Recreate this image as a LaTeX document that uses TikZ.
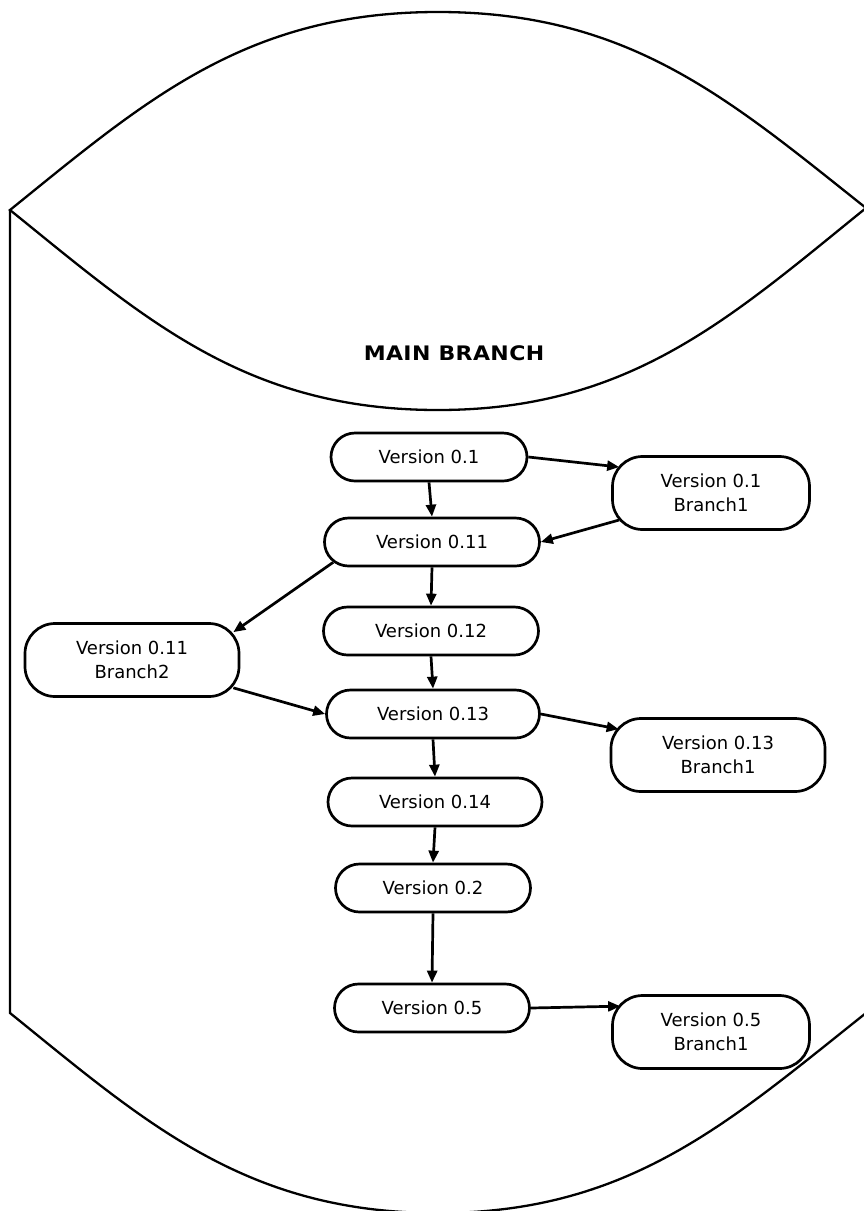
\documentclass[tikz,border=0pt]{standalone}
\usepackage{fontspec}
\setmainfont{DejaVu Sans}
\newfontfamily\titlefont[FakeStretch=1.1,LetterSpace=2]{DejaVu Sans Bold}
\usepackage{tikz}
\usetikzlibrary{arrows.meta}

\begin{document}
\begin{tikzpicture}[->,>={Triangle[length=12pt,width=10pt]},x=1pt,y=-1pt,
			line width=2.7pt,
			ver node/.style={draw,rectangle,rounded corners=24pt,minimum width=196pt,minimum height=48pt,
				font=\fontsize{18}{24}\selectfont},
			wide node/.style={ver node,minimum width=215pt},
			branch node/.style={draw,rectangle,rounded corners=30pt,minimum width=197pt,minimum height=73pt,
				align=center,font=\fontsize{18}{24}\selectfont}]

			\useasboundingbox (0,0) rectangle (863,1211);

			% the cylinder round the main branch
			\draw[-,line width=2.3pt] (866,208) .. controls (730,100) and (630,12) .. (438,12)
				.. controls (246,12) and (146,100) .. (10,210)
				.. controls (146,320) and (246,410) .. (438,410)
				.. controls (630,410) and (730,318) .. (866,208);
			\draw[-,line width=2.3pt] (10,210) -- (10,1013)
				.. controls (146,1123) and (246,1213) .. (438,1213)
				.. controls (630,1213) and (730,1121) .. (866,1013);

			\node[font=\titlefont\fontsize{20}{24}\selectfont] (title) at (454,353) {MAIN BRANCH};

			\node[ver node] (v01) at (429,457) {Version 0.1};
			\node[branch node] (v01b1) at (711,493) {Version 0.1\\Branch1};
			\node[wide node] (v011) at (432,542) {Version 0.11};
			\node[wide node] (v012) at (431,631) {Version 0.12};
			\node[branch node,minimum width=214pt] (v011b2) at (132,660) {Version 0.11\\Branch2};
			\node[wide node,minimum width=213pt] (v013) at (433,714) {Version 0.13};
			\node[branch node,minimum width=214pt] (v013b1) at (718,755) {Version 0.13\\Branch1};
			\node[wide node,minimum width=214pt] (v014) at (435,802) {Version 0.14};
			\node[ver node,minimum width=195pt] (v02) at (433,888) {Version 0.2};
			\node[ver node,minimum width=195pt] (v05) at (432,1008) {Version 0.5};
			\node[branch node] (v05b1) at (711,1032) {Version 0.5\\Branch1};

			\path[]
			(v01.south) edge (v011.north)
			(v01.east) edge ([shift={(8,-26)}]v01b1.west)
			([shift={(8,27)}]v01b1.west) edge (v011.east)
			([shift={(10,-5)}]v011.south west) edge ([shift={(-7,10)}]v011b2.north east)
			(v011.south) edge (v012.north)
			(v012.south) edge (v013.north)
			([shift={(-7,-10)}]v011b2.south east) edge (v013.west)
			(v013.east) edge ([shift={(9,12)}]v013b1.north west)
			(v013.south) edge (v014.north)
			(v014.south) edge (v02.north)
			(v02.south) edge (v05.north)
			(v05.east) edge ([shift={(9,12)}]v05b1.north west);

		\end{tikzpicture}
\end{document}
